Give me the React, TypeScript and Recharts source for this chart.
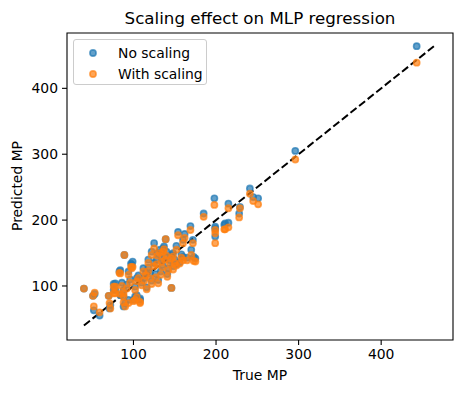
import { ScatterChart, Scatter, XAxis, YAxis, ReferenceLine, ReferenceArea } from 'recharts';

const TRUE_MP = [
  443, 296, 241, 245, 251, 229, 228, 215, 198, 185, 169, 199, 215, 210, 199, 154, 162, 139, 160, 172,
  170, 152, 175, 165, 156, 136, 148, 144, 89, 125, 122, 132, 134, 146, 152, 142, 99, 84, 112, 120,
  104, 130, 92, 78, 102, 146, 88, 104, 40, 51, 53, 52, 59, 71, 70, 76, 88, 84, 83, 94,
  97, 108, 102, 94, 98, 78, 76, 88, 90, 108, 100, 72, 115, 118, 125, 128, 135, 138, 140, 113,
  110, 116, 122, 127, 133, 141, 148, 150, 158, 106, 96, 86, 118, 129, 137, 211, 199, 160, 173,
];
const PRED_NO_SCALING = [
  464, 305, 248, 235, 233, 220, 210, 225, 233, 210, 191, 190, 196, 193, 175, 182, 179, 171, 170, 170,
  155, 161, 142, 143, 136, 157, 150, 139, 147, 165, 152, 155, 142, 147, 133, 127, 137, 124, 127, 119,
  112, 109, 102, 94, 99, 97, 84, 86, 96, 85, 88, 63, 55, 66, 85, 103, 69, 86, 122, 122,
  134, 79, 84, 79, 132, 104, 94, 94, 74, 81, 79, 71, 120, 128, 135, 140, 132, 145, 152, 112,
  105, 98, 108, 118, 122, 118, 130, 140, 148, 116, 110, 105, 140, 150, 160, 195, 187, 144, 144,
];
const PRED_WITH_SCALING = [
  439, 292, 240, 229, 224, 218, 204, 218, 223, 205, 185, 185, 189, 186, 165, 177, 173, 171, 165, 165,
  147, 155, 137, 139, 134, 152, 145, 134, 147, 157, 147, 150, 137, 142, 131, 124, 129, 119, 122, 112,
  107, 104, 96, 89, 94, 97, 84, 83, 96, 85, 90, 69, 60, 74, 85, 99, 75, 88, 120, 117,
  129, 74, 79, 74, 127, 99, 89, 89, 69, 76, 77, 66, 116, 123, 130, 133, 128, 140, 146, 108,
  101, 95, 103, 113, 117, 114, 125, 135, 143, 112, 105, 100, 135, 146, 156, 186, 180, 139, 138,
];
const SERIES_NAMES = ['No scaling', 'With scaling'];
const DIAG = [40, 465];
const TICKS = [100, 200, 300, 400];

const X_DOMAIN = [19.5, 487];
const Y_DOMAIN = [18, 484];
const BLUE = '#1f77b4';
const ORANGE = '#ff7f0e';
const FONT = 'DejaVu Sans, sans-serif';

const noScaling = TRUE_MP.map((x, i) => ({ x, y: PRED_NO_SCALING[i] }));
const withScaling = TRUE_MP.map((x, i) => ({ x, y: PRED_WITH_SCALING[i] }));

// matplotlib scatter: s=20, alpha .7, edge = face, linewidth 1.5pt
const dot = (color: string) => (p: any) => (
  <circle cx={p.cx} cy={p.cy} r={3.1} fill={color} fillOpacity={0.7} stroke={color} strokeOpacity={0.7} strokeWidth={1.6} />
);

const tickStyle = { fontSize: 13.9, fill: '#000', fontFamily: FONT };

export default function App() {
  return (
    <div style={{ position: 'absolute', left: 0, top: 0, width: 463, height: 393, background: '#fff', fontFamily: FONT }}>
      <ScatterChart width={463} height={393} margin={{ top: 33, right: 10, bottom: 0, left: 0 }}>
        <XAxis
          type="number"
          dataKey="x"
          domain={X_DOMAIN}
          ticks={TICKS}
          allowDataOverflow
          height={53}
          axisLine={false}
          tickSize={5}
          tickMargin={4}
          tickLine={{ stroke: '#000', strokeWidth: 1.1 }}
          tick={tickStyle}
        />
        <YAxis
          type="number"
          dataKey="y"
          domain={Y_DOMAIN}
          ticks={TICKS}
          allowDataOverflow
          width={67}
          axisLine={false}
          tickSize={5}
          tickMargin={4}
          tickLine={{ stroke: '#000', strokeWidth: 1.1 }}
          tick={tickStyle}
        />
        <ReferenceArea
          x1={X_DOMAIN[0]}
          x2={X_DOMAIN[1]}
          y1={Y_DOMAIN[0]}
          y2={Y_DOMAIN[1]}
          fill="none"
          stroke="#000"
          strokeWidth={1.1}
          fillOpacity={0}
          strokeOpacity={1}
        />
        <Scatter name={SERIES_NAMES[0]} data={noScaling} shape={dot(BLUE)} isAnimationActive={false} />
        <Scatter name={SERIES_NAMES[1]} data={withScaling} shape={dot(ORANGE)} isAnimationActive={false} />
        <ReferenceLine
          segment={[
            { x: DIAG[0], y: DIAG[0] },
            { x: DIAG[1], y: DIAG[1] },
          ]}
          stroke="#000"
          strokeWidth={2}
          strokeDasharray="7.7 3.3"
          ifOverflow="visible"
        />
      </ScatterChart>

      <div style={{ position: 'absolute', left: 0, width: 463, paddingLeft: 67, paddingRight: 10, boxSizing: 'border-box', top: 8, textAlign: 'center', fontSize: 16.7 }}>
        Scaling effect on MLP regression
      </div>
      <div style={{ position: 'absolute', left: 0, width: 463, paddingLeft: 67, paddingRight: 10, boxSizing: 'border-box', top: 367, textAlign: 'center', fontSize: 13.9 }}>
        True MP
      </div>
      <div
        style={{
          position: 'absolute',
          left: 17,
          top: 186,
          fontSize: 13.9,
          whiteSpace: 'nowrap',
          transform: 'translate(-50%, -50%) rotate(-90deg)',
        }}
      >
        Predicted MP
      </div>

      <div
        style={{
          position: 'absolute',
          left: 73,
          top: 39,
          width: 134,
          height: 46,
          boxSizing: 'border-box',
          border: '1px solid #cccccc',
          borderRadius: 3,
          background: 'rgba(255,255,255,0.8)',
          fontSize: 13.9,
        }}
      >
        {SERIES_NAMES.map((name, i) => (
          <div key={name} style={{ position: 'absolute', left: 0, top: 3 + i * 21, height: 20, display: 'flex', alignItems: 'center' }}>
            <svg width={40} height={20}>
              <circle cx={19} cy={10} r={3.1} fill={i === 0 ? BLUE : ORANGE} fillOpacity={0.7} stroke={i === 0 ? BLUE : ORANGE} strokeOpacity={0.7} strokeWidth={1.6} />
            </svg>
            <span style={{ marginLeft: 4 }}>{name}</span>
          </div>
        ))}
      </div>
    </div>
  );
}
